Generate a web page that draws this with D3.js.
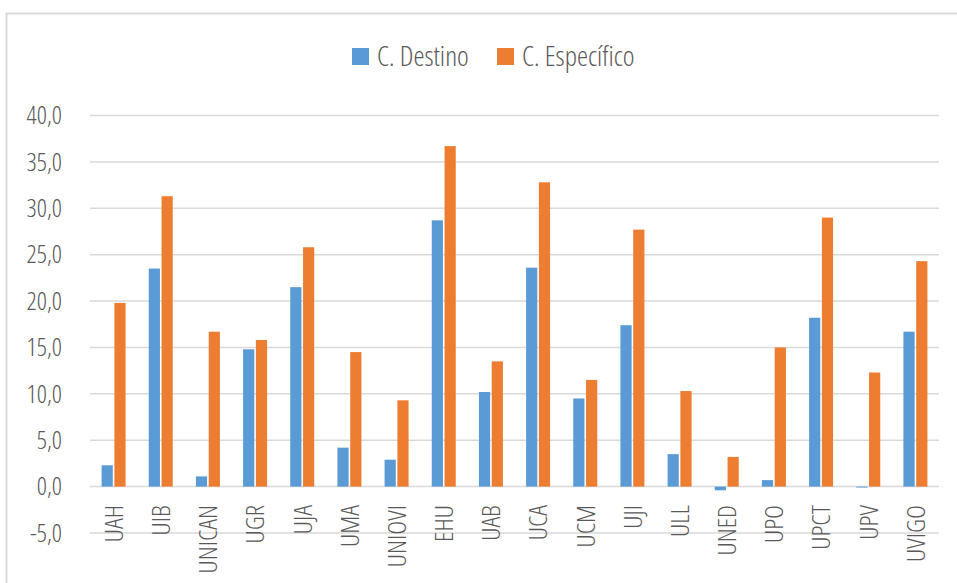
<!DOCTYPE html>
<html><head><meta charset="utf-8">
<script src="https://cdn.jsdelivr.net/npm/d3@7"></script>
<style>
body{margin:0;background:#fff;}
svg text{font-family:"Open Sans",sans-serif;font-stretch:75%;font-weight:300;fill:#595959;}
</style></head>
<body><svg id="c" width="957" height="583"></svg>
<script>
const categories = ["UAH","UIB","UNICAN","UGR","UJA","UMA","UNIOVI","EHU","UAB","UCA","UCM","UJI","ULL","UNED","UPO","UPCT","UPV","UVIGO"];
const destino = [2.3,23.5,1.1,14.8,21.5,4.2,2.9,28.7,10.2,23.6,9.5,17.4,3.5,-0.4,0.7,18.2,-0.1,16.7];
const especifico = [19.8,31.3,16.7,15.8,25.8,14.5,9.3,36.7,13.5,32.8,11.5,27.7,10.3,3.2,15.0,29.0,12.3,24.3];
const seriesNames = ["C. Destino","C. Específico"];
const yTicks = [-5,0,5,10,15,20,25,30,35,40];
const colors = ["#5B9BD5","#ED7D31"];

const svg = d3.select("#c");
svg.append("rect").attr("x",6.5).attr("y",13.5).attr("width",1000).attr("height",600)
  .attr("fill","none").attr("stroke","#D9D9D9").attr("stroke-width",2);

const y = d3.scaleLinear().domain([-5,40]).range([533,115.5]);
const x0 = d3.scaleBand().domain(categories).range([90,939]);
const x1 = d3.scaleBand().domain([0,1]).range([0,24]).paddingInner(0.125);
const groupOff = (x0.bandwidth()-24)/2;

svg.append("g").selectAll("line").data(yTicks).join("line")
  .attr("x1",90).attr("x2",939).attr("y1",d=>y(d)).attr("y2",d=>y(d))
  .attr("stroke","#D9D9D9").attr("stroke-width",1.5);

const loc = d3.formatLocale({decimal:",",thousands:".",grouping:[3],currency:["","€"],minus:"-"});
const fmt = loc.format(".1f");
svg.append("g").selectAll("text").data(yTicks).join("text")
  .attr("x",62).attr("y",d=>y(d)).attr("dy","0.35em").attr("text-anchor","end")
  .attr("font-size",25).text(fmt);

const data = [destino, especifico];
data.forEach((vals,si)=>{
  svg.append("g").selectAll("rect").data(vals).join("rect")
    .attr("x",(d,i)=>x0(categories[i])+groupOff+x1(si))
    .attr("width",x1.bandwidth())
    .attr("y",d=>Math.min(y(d),y(0)))
    .attr("height",d=>Math.abs(y(d)-y(0)))
    .attr("fill",colors[si]);
});

svg.append("g").selectAll("text").data(categories).join("text")
  .attr("transform",d=>`translate(${x0(d)+x0.bandwidth()/2},505) rotate(-90)`)
  .attr("dy","0.35em").attr("text-anchor","end").attr("font-size",26.5).text(d=>d);

const leg = svg.append("g");
const legX = [352,497];
seriesNames.forEach((n,i)=>{
  leg.append("rect").attr("x",legX[i]).attr("y",48).attr("width",17).attr("height",17).attr("fill",colors[i]);
  leg.append("text").attr("x",legX[i]+25).attr("y",56.5).attr("dy","0.35em").attr("font-size",28).text(n);
});
</script></body></html>
